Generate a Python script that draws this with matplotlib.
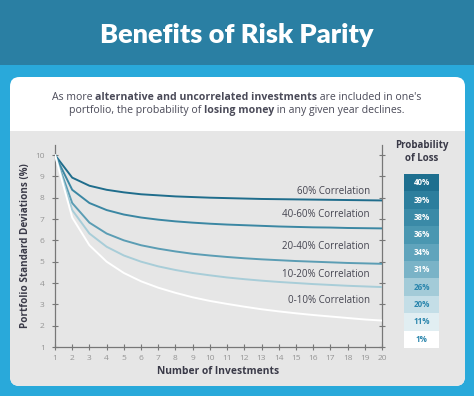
import matplotlib.pyplot as plt
from matplotlib.patches import FancyBboxPatch, Rectangle

# Данные
n_investments = list(range(1, 21))
corr_60 = [10.0, 8.94, 8.56, 8.37, 8.25, 8.16, 8.11, 8.06, 8.03, 8.00,
           7.98, 7.96, 7.94, 7.93, 7.92, 7.91, 7.90, 7.89, 7.88, 7.87]
corr_40_60 = [10.0, 8.37, 7.75, 7.42, 7.21, 7.07, 6.97, 6.89, 6.83, 6.78,
              6.74, 6.71, 6.68, 6.65, 6.63, 6.61, 6.60, 6.58, 6.57, 6.56]
corr_20_40 = [10.0, 7.75, 6.83, 6.32, 6.00, 5.77, 5.61, 5.48, 5.37, 5.29,
              5.22, 5.16, 5.11, 5.07, 5.03, 5.00, 4.97, 4.94, 4.92, 4.90]
corr_10_20 = [10.0, 7.42, 6.32, 5.70, 5.29, 5.00, 4.78, 4.61, 4.47, 4.36,
              4.26, 4.18, 4.11, 4.05, 4.00, 3.95, 3.91, 3.87, 3.84, 3.81]
corr_0_10 = [10.0, 7.07, 5.77, 5.00, 4.47, 4.08, 3.78, 3.54, 3.33, 3.16,
             3.02, 2.89, 2.77, 2.67, 2.58, 2.50, 2.43, 2.36, 2.29, 2.24]
series_labels = ["60% Correlation", "40-60% Correlation", "20-40% Correlation",
                 "10-20% Correlation", "0-10% Correlation"]
label_y = [8.31, 7.19, 5.69, 4.42, 3.16]
loss_probs = ["40%", "39%", "38%", "36%", "34%", "31%", "26%", "20%", "11%", "1%"]

line_colors = ["#1f6d8c", "#3b87a3", "#5b9db4", "#a8cdd8", "#ffffff"]
cell_colors = ["#1e6f8f", "#2c7e9d", "#3a8aa7", "#4a97b1", "#60a4bc",
               "#7ab3c7", "#a3cbd8", "#c4dee7", "#e1eef2", "#ffffff"]

W, H = 474, 396
fig = plt.figure(figsize=(W / 100, H / 100), dpi=100)
fig.patch.set_facecolor("#29a9da")


def fx(px):
    return px / W


def fy(py):
    return 1 - py / H


# Фон: шапка, карточка, серая панель
fig.patches.append(Rectangle((0, fy(65)), 1, 65 / H, transform=fig.transFigure,
                             facecolor="#2a7fa3", edgecolor="none"))
fig.patches.append(FancyBboxPatch((fx(10), fy(386)), fx(455), (386 - 77) / H,
                                  boxstyle="round,pad=0,rounding_size=0.02",
                                  transform=fig.transFigure, facecolor="#ffffff",
                                  edgecolor="none", mutation_aspect=W / H))
fig.patches.append(FancyBboxPatch((fx(10), fy(386)), fx(455), (386 - 131) / H,
                                  boxstyle="round,pad=0,rounding_size=0.02",
                                  transform=fig.transFigure, facecolor="#e6e6e6",
                                  edgecolor="none", mutation_aspect=W / H))
fig.patches.append(Rectangle((fx(10), fy(160)), fx(455), 29 / H, transform=fig.transFigure,
                             facecolor="#e6e6e6", edgecolor="none"))

fig.text(0.5, fy(35), "Benefits of Risk Parity", color="white", fontsize=19.5,
         fontweight="heavy", family="Lato", ha="center", va="center")

# Подзаголовок со смешанным начертанием
renderer = fig.canvas.get_renderer()
sub_lines = [
    [("As more ", "normal"), ("alternative and uncorrelated investments", "bold"),
     (" are included in one's", "normal")],
    [("portfolio, the probability of ", "normal"), ("losing money", "bold"),
     (" in any given year declines.", "normal")],
]
for row, py in zip(sub_lines, [98, 111]):
    texts = []
    for s, wgt in row:
        t = fig.text(0, fy(py), s, fontsize=7.6, fontweight=wgt, color="#4a4a58",
                     family="Open Sans", va="center", ha="left")
        texts.append(t)
    widths = [t.get_window_extent(renderer).width for t in texts]
    x0 = (W - sum(widths)) / 2
    for t, w in zip(texts, widths):
        t.set_x(x0 / W)
        x0 += w

# График
ax = fig.add_axes([fx(55), fy(347), fx(382 - 55), (347 - 145) / H])
ax.set_zorder(5)
ax.set_facecolor("none")
all_series = [corr_60, corr_40_60, corr_20_40, corr_10_20, corr_0_10]
for vals, c in zip(all_series, line_colors):
    ax.plot(n_investments, vals, color=c, linewidth=1.4, solid_capstyle="round",
            solid_joinstyle="round", zorder=3)
for lbl, yv in zip(series_labels, label_y):
    ax.text(19.3, yv, lbl, ha="right", va="center", fontsize=7, color="#444450",
            family="Open Sans")

ax.set_xlim(1, 20)
ax.set_ylim(1, 10.47)
ax.set_xticks(n_investments)
ax.set_yticks(range(1, 11))
ax.tick_params(axis="both", direction="inout", length=5, width=0.8, color="#777777",
               labelsize=6, labelcolor="#959595")
ax.tick_params(axis="x", pad=3)
ax.tick_params(axis="y", right=True, pad=5)
for side in ["left", "bottom", "right"]:
    ax.spines[side].set_color("#777777")
    ax.spines[side].set_linewidth(0.9)
ax.spines["top"].set_visible(False)
for lab in ax.get_xticklabels() + ax.get_yticklabels():
    lab.set_family("Open Sans")

ax.set_xlabel("Number of Investments", fontsize=7.4, fontweight="bold", color="#3a3a48",
              family="Open Sans", labelpad=3)
ax.set_ylabel("Portfolio Standard Deviations (%)", fontsize=7.1, fontweight="bold",
              color="#3a3a48", family="Open Sans", labelpad=3)

# Таблица вероятностей потерь
fig.text(fx(421.5), fy(152), "Probability\nof Loss", ha="center", va="center",
         fontsize=7, fontweight="bold", color="#3a3a48", family="Open Sans", linespacing=1.35)
top, row_h = 174, 17.4
for i, (p, c) in enumerate(zip(loss_probs, cell_colors)):
    y0 = top + i * row_h
    fig.patches.append(Rectangle((fx(404), fy(y0 + row_h)), fx(35), row_h / H,
                                 transform=fig.transFigure, facecolor=c, edgecolor="none"))
    tc = "white" if i < 6 else "#2b86ad"
    fig.text(fx(421.5), fy(y0 + row_h / 2), p, ha="center", va="center", fontsize=5.8,
             fontweight="bold", color=tc, family="Open Sans")

fig.savefig("out.png", dpi=100, facecolor=fig.get_facecolor())
